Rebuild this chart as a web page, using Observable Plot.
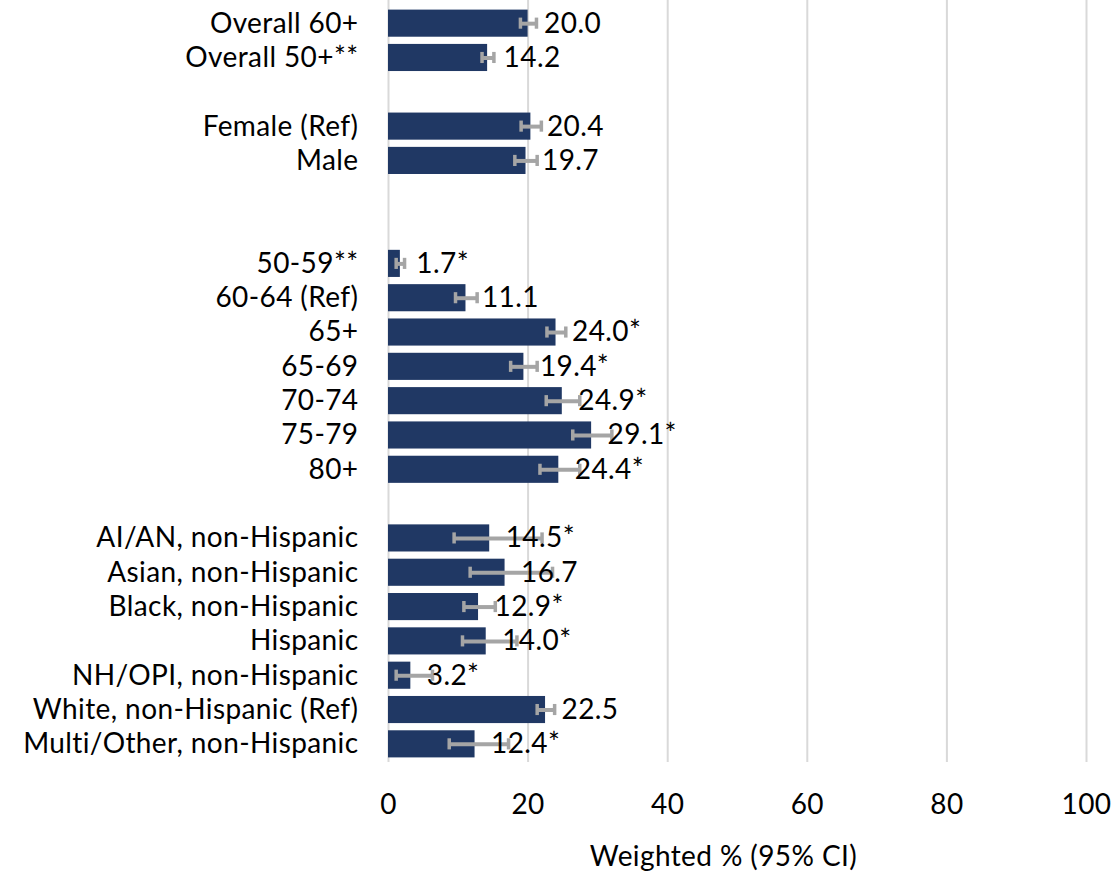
<!DOCTYPE html>
<html>
<head>
<meta charset="utf-8">
<script src="https://cdn.jsdelivr.net/npm/d3@7"></script>
<script src="https://cdn.jsdelivr.net/npm/@observablehq/plot@0.6"></script>
<style>
  html, body { margin: 0; padding: 0; background: #ffffff; }
  #chart svg { display: block; font-family: Lato, sans-serif; }
</style>
</head>
<body>
<div id="chart"></div>
<script>
// Row labels, grouped; empty spacer rows separate the groups.
const categories = [
  "Overall 60+", "Overall 50+**",
  "Female (Ref)", "Male",
  "50-59**", "60-64 (Ref)", "65+", "65-69", "70-74", "75-79", "80+",
  "AI/AN, non-Hispanic", "Asian, non-Hispanic", "Black, non-Hispanic", "Hispanic",
  "NH/OPI, non-Hispanic", "White, non-Hispanic (Ref)", "Multi/Other, non-Hispanic"
];
const groupSizes = [2, 2, 7, 7];
const gapsAfter = [1, 2, 1];

// Weighted percentages and 95% confidence limits.
const values = [20.0, 14.2, 20.4, 19.7, 1.7, 11.1, 24.0, 19.4, 24.9, 29.1, 24.4,
                14.5, 16.7, 12.9, 14.0, 3.2, 22.5, 12.4];
const ciLow  = [18.9, 13.4, 19.0, 18.1, 1.1, 9.6, 22.7, 17.5, 22.6, 26.4, 21.7,
                9.4, 11.7, 10.8, 10.6, 1.1, 21.3, 8.7];
const ciHigh = [21.2, 15.1, 21.9, 21.3, 2.3, 12.7, 25.4, 21.3, 27.4, 32.0, 27.4,
                22.0, 23.5, 15.3, 18.4, 6.3, 23.8, 17.2];
// Significance flag shown as an asterisk after the value.
const significant = [false, false, false, false, true, false, true, true, true, true, true,
                     true, false, true, true, true, false, true];

const xTicks = [0, 20, 40, 60, 80, 100];
const xTitle = "Weighted % (95% CI)";

// Band domain with spacer keys between groups.
const domain = [];
let k = 0;
groupSizes.forEach((n, g) => {
  for (let i = 0; i < n; i++) domain.push(categories[k++]);
  if (g < gapsAfter.length) for (let j = 0; j < gapsAfter[g]; j++) domain.push(`__gap${g}_${j}`);
});

const rows = categories.map((c, i) => ({
  category: c,
  value: values[i],
  lo: ciLow[i],
  hi: ciHigh[i],
  label: values[i].toFixed(1) + (significant[i] ? "*" : "")
}));

const barColor = "#203864";
const errColor = "#A5A5A5";
const fs = 28;

const chart = Plot.plot({
  width: 1112,
  height: 875,
  marginLeft: 388,
  marginRight: 26,
  marginTop: 0,
  marginBottom: 113,
  style: { fontFamily: "Lato, sans-serif", fontSize: `${fs}px`, letterSpacing: "0.4px", color: "#000", background: "#fff" },
  x: { domain: [0, 100], ticks: xTicks, label: null },
  y: { domain, range: [6, 761], paddingInner: 0.21, paddingOuter: 0.105, round: false, label: null },
  marks: [
    Plot.gridX(xTicks, { stroke: "#D9D9D9", strokeOpacity: 1, strokeWidth: 2 }),
    Plot.barX(rows, { x: "value", y: "category", fill: barColor }),
    Plot.ruleY(rows, { y: "category", x1: "lo", x2: "hi", stroke: errColor, strokeWidth: 4 }),
    Plot.tickX(rows, { x: "lo", y: "category", stroke: errColor, strokeWidth: 3.5, insetTop: 8, insetBottom: 8 }),
    Plot.tickX(rows, { x: "hi", y: "category", stroke: errColor, strokeWidth: 3.5, insetTop: 8, insetBottom: 8 }),
    Plot.text(rows, { x: "value", y: "category", text: "label", textAnchor: "start", dx: 16, fill: "#000", fontSize: fs }),
    Plot.axisX(xTicks, { tickSize: 0, tickPadding: 32, fontSize: fs, label: null }),
    Plot.axisY({ tickSize: 0, tickPadding: 30, fontSize: fs, label: null,
                 tickFormat: d => d.startsWith("__gap") ? "" : d }),
    Plot.text([xTitle], { frameAnchor: "bottom", dx: -14, dy: 103, fontSize: fs, fill: "#000" })
  ]
});

document.getElementById("chart").appendChild(chart);
</script>
</body>
</html>
